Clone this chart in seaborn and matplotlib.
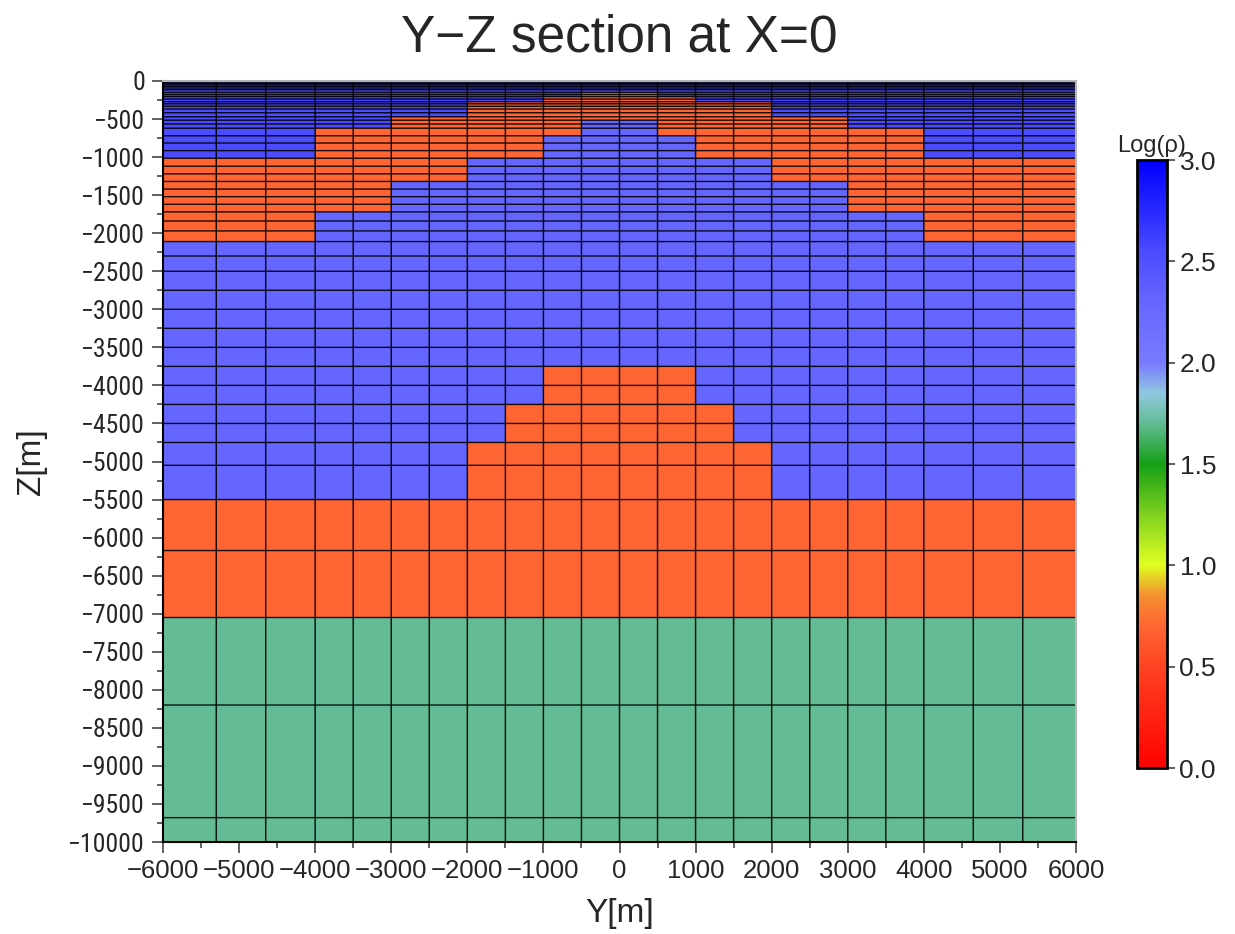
import numpy as np
import matplotlib
matplotlib.use("Agg")
import matplotlib.pyplot as plt
from matplotlib import font_manager
from matplotlib.colors import LinearSegmentedColormap, Normalize
from matplotlib.ticker import MultipleLocator, FormatStrFormatter
import seaborn as sns

# Horizontal cell boundaries of the mesh (m)
y_edges = [-6000, -5300, -4650, -4000, -3500, -3000, -2500, -2000, -1500, -1000, -500,
           0, 500, 1000, 1500, 2000, 2500, 3000, 3500, 4000, 4650, 5300, 6000]

# Vertical cell boundaries of the mesh (m), surface downwards
z_edges = [0, -15, -32, -50, -70, -92, -115, -150, -178, -205, -238,
           -272, -300, -332, -368, -417, -470, -515, -565, -620, -720,
           -815, -915, -1015, -1120, -1220, -1320, -1420, -1520, -1620, -1720, -1840,
           -1970, -2110, -2300, -2500, -2750, -3000, -3250, -3500, -3750, -4000,
           -4250, -4500, -4750, -5050, -5500, -6170, -7050, -8200, -9680, -10000]

# Interfaces of the shallow conductive cap, per column (m)
cap_top = [-1015, -1015, -1015, -620, -620, -470, -470, -272, -272, -205, -150,
           -150, -205, -272, -272, -470, -470, -620, -620, -1015, -1015, -1015]
cap_bottom = [-2110, -2110, -2110, -1720, -1720, -1320, -1320, -1015, -1015, -720, -515,
              -515, -720, -1015, -1015, -1320, -1320, -1720, -1720, -2110, -2110, -2110]
# Top of the deep conductive body, per column (m)
body_top = [-5500, -5500, -5500, -5500, -5500, -5500, -5500, -4750, -4250, -3750, -3750,
            -3750, -3750, -4250, -4750, -5500, -5500, -5500, -5500, -5500, -5500, -5500]
conductor_base = -7050

# log10 resistivity of each unit
rho_surface = 2.55
rho_host = 2.3
rho_conductor = 0.7
rho_basement = 1.7

# Colour scale nodes
cbar_nodes = [0.0, 0.5, 0.7, 0.85, 1.0, 1.25, 1.5, 1.7, 1.85, 2.0, 2.3, 2.55, 3.0]
cbar_colors = ["#ff0000", "#ff4422", "#ff6633", "#f39030", "#e0ff20", "#80d020",
               "#14a014", "#62bb93", "#90c8e0", "#7a7aff", "#6666ff", "#4b4bff", "#0000ff"]

sns.set_theme(style="ticks")
plt.rcParams["font.family"] = ["Liberation Sans", "DejaVu Sans"]

# Narrow face for the depth labels
installed = {f.name for f in font_manager.fontManager.ttflist}
narrow_family = None
for name in ("Liberation Sans Narrow", "DejaVu Sans Condensed", "Roboto Condensed"):
    if name in installed:
        narrow_family = name
        break

cmap = LinearSegmentedColormap.from_list(
    "logrho", [(v / 3.0, c) for v, c in zip(cbar_nodes, cbar_colors)])
norm = Normalize(vmin=0.0, vmax=3.0)

# Assemble the resistivity section from the unit interfaces
z_arr = np.array(z_edges, dtype=float)
z_mid = 0.5 * (z_arr[:-1] + z_arr[1:])
model = np.empty((len(z_mid), len(y_edges) - 1))
for j in range(len(y_edges) - 1):
    for i, zc in enumerate(z_mid):
        if zc > cap_top[j]:
            model[i, j] = rho_surface
        elif zc > cap_bottom[j]:
            model[i, j] = rho_conductor
        elif zc > body_top[j]:
            model[i, j] = rho_host
        elif zc > conductor_base:
            model[i, j] = rho_conductor
        else:
            model[i, j] = rho_basement

fig = plt.figure(figsize=(12.35, 9.34), dpi=100)
ax = fig.add_axes([163 / 1235, 1 - 842 / 934, 913 / 1235, 761 / 934])

mesh = ax.pcolormesh(y_edges, z_edges, model, cmap=cmap, norm=norm,
                     edgecolors="none", shading="flat")
# Mesh cell outlines
ax.hlines(z_edges, y_edges[0], y_edges[-1], colors="black", linewidth=1.0,
          alpha=0.9, snap=False)
ax.vlines(y_edges, z_edges[-1], z_edges[0], colors="black", linewidth=1.05,
          alpha=0.9, snap=False)

ax.set_xlim(-6000, 6000)
ax.set_ylim(-10000, 0)
ax.xaxis.set_major_locator(MultipleLocator(1000))
ax.xaxis.set_minor_locator(MultipleLocator(500))
ax.yaxis.set_major_locator(MultipleLocator(500))
ax.yaxis.set_minor_locator(MultipleLocator(250))
ax.tick_params(axis="both", which="major", length=8, width=1.3, color="#555555",
               direction="out")
ax.tick_params(axis="both", which="minor", length=4, width=1.3, color="#555555",
               direction="out")
ax.tick_params(axis="x", which="major", labelsize=18.5, pad=4)
if narrow_family is not None:
    ax.tick_params(axis="y", which="major", labelsize=18.5, pad=5)
    for lab in ax.get_yticklabels():
        lab.set_family([narrow_family, "DejaVu Sans"])
else:
    ax.tick_params(axis="y", which="major", labelsize=15, pad=5)

for side in ("left", "bottom"):
    ax.spines[side].set_color("black")
    ax.spines[side].set_linewidth(1.5)
for side in ("top", "right"):
    ax.spines[side].set_color("#b5b5b5")
    ax.spines[side].set_linewidth(1.5)

ax.set_xlabel("Y[m]", fontsize=24, labelpad=11)
ax.set_ylabel("Z[m]", fontsize=24)
ax.yaxis.set_label_coords(-0.127, 0.5)

fig.text(619.5 / 1235, 1 - 38 / 934, "Y\u2212Z section at X=0", fontsize=37,
         ha="center", va="center")

# Colour bar
cax = fig.add_axes([1137 / 1235, 1 - 768 / 934, 30 / 1235, 608 / 934])
cb = fig.colorbar(mesh, cax=cax, orientation="vertical")
cb.set_ticks(np.arange(0.0, 3.01, 0.5))
cb.ax.yaxis.set_major_formatter(FormatStrFormatter("%.1f"))
cb.ax.tick_params(length=6, width=1.3, color="#555555", labelsize=19, pad=3)
cb.outline.set_linewidth(2)
cb.outline.set_edgecolor("black")
cax.text(0.5, 1.005, "Log(\u03c1)", transform=cax.transAxes, ha="center", va="bottom",
         fontsize=17)

fig.savefig("out.png", dpi=100)
